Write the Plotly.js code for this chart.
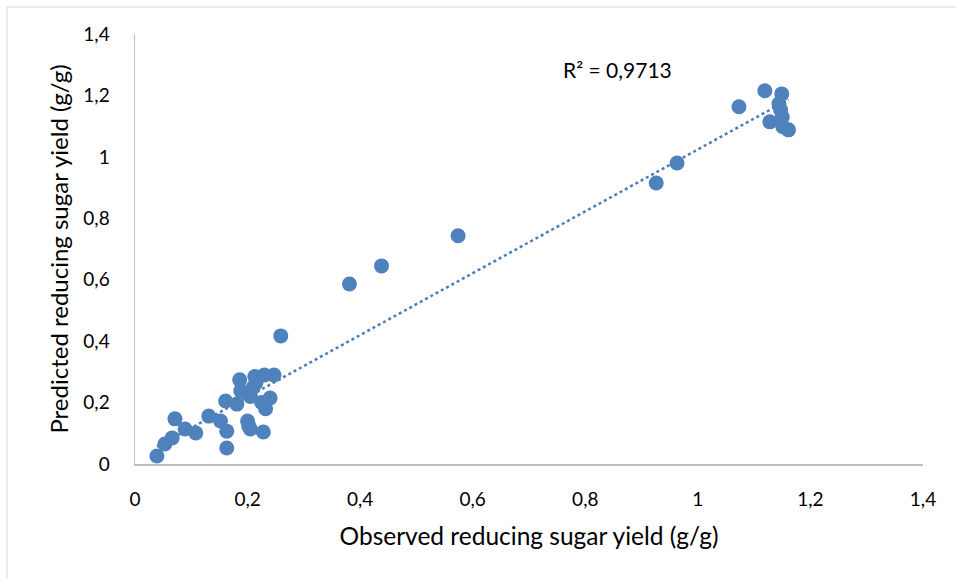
<!DOCTYPE html>
<html>
<head>
<meta charset="utf-8">
<script src="https://cdn.plot.ly/plotly-3.0.1.min.js"></script>
<style>html,body{margin:0;padding:0;background:#fff}#chart{width:956px;height:579px}</style>
</head>
<body>
<div id="chart"></div>
<script>
var observed = [0.039,0.053,0.066,0.071,0.089,0.108,0.131,0.152,0.161,0.163,0.163,0.181,0.186,0.188,0.202,0.205,0.200,0.213,0.210,0.205,0.230,0.247,0.225,0.232,0.240,0.228,0.215,0.259,0.381,0.438,0.574,0.926,0.963,1.073,1.119,1.128,1.149,1.144,1.147,1.151,1.161,1.150];
var predicted = [0.026,0.065,0.085,0.147,0.114,0.101,0.156,0.140,0.205,0.107,0.052,0.195,0.274,0.238,0.124,0.114,0.140,0.285,0.250,0.220,0.290,0.290,0.200,0.180,0.215,0.104,0.265,0.417,0.586,0.645,0.743,0.915,0.980,1.163,1.215,1.114,1.205,1.173,1.153,1.098,1.088,1.130];
var xTicks = [0,0.2,0.4,0.6,0.8,1,1.2,1.4];
var yTicks = [0,0.2,0.4,0.6,0.8,1,1.2,1.4];
var r2Label = "R² = 0,9713";

// linear trendline from the data
var n = observed.length, sx=0, sy=0, sxx=0, sxy=0;
for (var i=0;i<n;i++){sx+=observed[i];sy+=predicted[i];sxx+=observed[i]*observed[i];sxy+=observed[i]*predicted[i];}
var slope=(n*sxy-sx*sy)/(n*sxx-sx*sx), icpt=(sy-slope*sx)/n;
var xmin=Math.min.apply(null,observed), xmax=Math.max.apply(null,observed);

var font = "Lato, 'Open Sans', sans-serif";
var traces = [
 {x:[xmin,xmax], y:[icpt+slope*xmin, icpt+slope*xmax], mode:'lines', line:{color:'#4A7EBB', width:2.5, dash:'dot'}, hoverinfo:'skip'},
 {x:observed, y:predicted, mode:'markers', marker:{color:'#4F81BD', size:15, line:{width:0}}}
];
var layout = {
  width:956, height:579, showlegend:false, separators:', ',
  paper_bgcolor:'#fff', plot_bgcolor:'#fff',
  margin:{l:135, r:33, t:34, b:115},
  font:{family:font, color:'#000', size:19},
  xaxis:{range:[0,1.4], tickvals:xTicks, showgrid:false, zeroline:false, showline:true, linecolor:'#BFBFBF', linewidth:1.5,
         ticks:'outside', ticklen:18, tickcolor:'rgba(0,0,0,0)', tickfont:{size:19, family:font},
         title:{text:'Observed reducing sugar yield (g/g)', font:{size:24.5, family:font}, standoff:18}},
  yaxis:{range:[0,1.4], tickvals:yTicks, showgrid:false, zeroline:false, showline:true, linecolor:'#BFBFBF', linewidth:1.5,
         ticks:'outside', ticklen:20, tickcolor:'rgba(0,0,0,0)', tickfont:{size:19, family:font},
         title:{text:'Predicted reducing sugar yield (g/g)', font:{size:24, family:font}, standoff:8}},
  annotations:[{x:0.858, y:1.285, xref:'x', yref:'y', text:r2Label, showarrow:false, font:{size:21, family:font}}],
  shapes:[{type:'rect', xref:'paper', yref:'paper', x0:(7-135)/788, x1:(1000-135)/788, y0:(430-(620-34))/430, y1:(430-(7-34))/430, line:{color:'#D9D9D9', width:1}, fillcolor:'rgba(0,0,0,0)', layer:'below'}]
};
Plotly.newPlot('chart', traces, layout, {staticPlot:true});
</script>
</body>
</html>
